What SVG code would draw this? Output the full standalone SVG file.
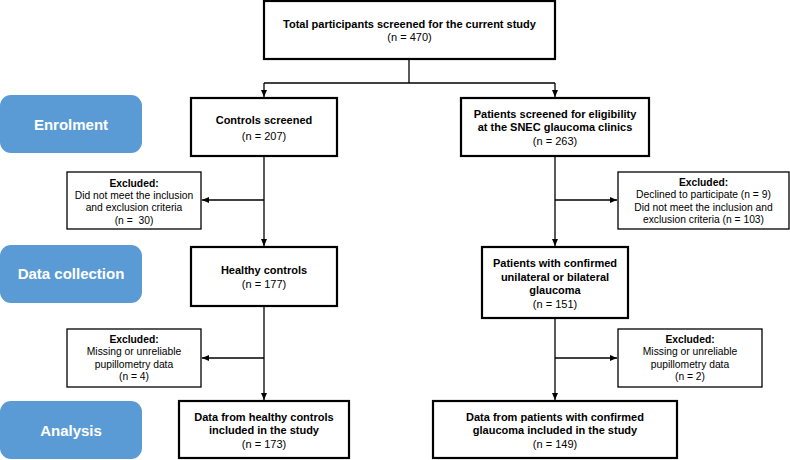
<svg xmlns="http://www.w3.org/2000/svg" width="790" height="460" viewBox="0 0 790 460">
<defs>
<marker id="ah" markerUnits="userSpaceOnUse" markerWidth="8" markerHeight="7" refX="7" refY="3" orient="auto">
<path d="M0,0 L7,3 L0,6 z" fill="#000"/>
</marker>
<style>
.main{fill:#fff;stroke:#000;stroke-width:2.2}
.exc{fill:#fff;stroke:#000;stroke-width:1.3}
.lab{fill:#5B9BD5}
.lt{font-family:"Liberation Sans",Arial,sans-serif;font-size:15px;font-weight:bold;fill:#fff;text-anchor:middle}
.b{font-family:"Liberation Sans",Arial,sans-serif;font-size:11px;font-weight:bold;fill:#000;text-anchor:middle}
.r{font-family:"Liberation Sans",Arial,sans-serif;font-size:11px;fill:#000;text-anchor:middle}
.eb{font-family:"Liberation Sans",Arial,sans-serif;font-size:10.3px;font-weight:bold;fill:#000;text-anchor:middle}
.er{font-family:"Liberation Sans",Arial,sans-serif;font-size:10.3px;fill:#000;text-anchor:middle}
.c{fill:none;stroke:#000;stroke-width:1.3}
</style>
</defs>
<rect width="790" height="460" fill="#fff"/>

<g id="connectors">
<path class="c" d="M409,59 V83"/>
<path class="c" d="M264,83 H555"/>
<path class="c" d="M264,83 V97" marker-end="url(#ah)"/>
<path class="c" d="M555,83 V97" marker-end="url(#ah)"/>
<path class="c" d="M264,156 V246" marker-end="url(#ah)"/>
<path class="c" d="M264,200 H202" marker-end="url(#ah)"/>
<path class="c" d="M264,306 V400" marker-end="url(#ah)"/>
<path class="c" d="M264,358 H202" marker-end="url(#ah)"/>
<path class="c" d="M555,156 V246" marker-end="url(#ah)"/>
<path class="c" d="M555,200 H617" marker-end="url(#ah)"/>
<path class="c" d="M555,318 V400" marker-end="url(#ah)"/>
<path class="c" d="M555,358 H617" marker-end="url(#ah)"/>
</g>

<g id="label-enrolment">
<rect class="lab" x="0" y="95" width="142" height="58" rx="11"/>
<text class="lt" x="71" y="130">Enrolment</text>
</g>
<g id="label-data-collection">
<rect class="lab" x="0" y="245" width="142" height="58" rx="11"/>
<text class="lt" x="71" y="279">Data collection</text>
</g>
<g id="label-analysis">
<rect class="lab" x="0" y="401" width="142" height="58" rx="11"/>
<text class="lt" x="71" y="436">Analysis</text>
</g>

<g id="total">
<rect class="main" x="264" y="1" width="291" height="58"/>
<text class="b" x="409.5" y="28">Total participants screened for the current study</text>
<text class="r" x="409.5" y="41">(n = 470)</text>
</g>

<g id="controls-screened">
<rect class="main" x="191" y="98" width="146" height="58"/>
<text class="b" x="264" y="124">Controls screened</text>
<text class="r" x="264" y="140">(n = 207)</text>
</g>

<g id="patients-screened">
<rect class="main" x="461" y="98" width="188" height="58"/>
<text class="b" x="555" y="118">Patients screened for eligibility</text>
<text class="b" x="555" y="131">at the SNEC glaucoma clinics</text>
<text class="r" x="555" y="145">(n = 263)</text>
</g>

<g id="excluded-controls-1">
<rect class="exc" x="67" y="172" width="134" height="57"/>
<text class="eb" x="134" y="186.6">Excluded:</text>
<text class="er" x="134" y="199">Did not meet the inclusion</text>
<text class="er" x="134" y="211.4">and exclusion criteria</text>
<text class="er" x="134" y="223.8" xml:space="preserve">(n =  30)</text>
</g>

<g id="excluded-patients-1">
<rect class="exc" x="618" y="172" width="171" height="57"/>
<text class="eb" x="703.5" y="186">Excluded:</text>
<text class="er" x="703.5" y="198.4">Declined to participate (n = 9)</text>
<text class="er" x="703.5" y="210.8">Did not meet the inclusion and</text>
<text class="er" x="703.5" y="223.2">exclusion criteria (n = 103)</text>
</g>

<g id="healthy-controls">
<rect class="main" x="191" y="247" width="146" height="59"/>
<text class="b" x="264" y="274">Healthy controls</text>
<text class="r" x="264" y="288">(n = 177)</text>
</g>

<g id="patients-confirmed">
<rect class="main" x="482" y="247" width="146" height="71"/>
<text class="b" x="555" y="267">Patients with confirmed</text>
<text class="b" x="555" y="280.5">unilateral or bilateral</text>
<text class="b" x="555" y="294">glaucoma</text>
<text class="r" x="555" y="308">(n = 151)</text>
</g>

<g id="excluded-controls-2">
<rect class="exc" x="67" y="329" width="134" height="58"/>
<text class="eb" x="134" y="343">Excluded:</text>
<text class="er" x="134" y="355.4">Missing or unreliable</text>
<text class="er" x="134" y="367.8">pupillometry data</text>
<text class="er" x="134" y="380.2">(n = 4)</text>
</g>

<g id="excluded-patients-2">
<rect class="exc" x="618" y="329" width="144" height="58"/>
<text class="eb" x="690" y="343">Excluded:</text>
<text class="er" x="690" y="355.4">Missing or unreliable</text>
<text class="er" x="690" y="367.8">pupillometry data</text>
<text class="er" x="690" y="380.2">(n = 2)</text>
</g>

<g id="data-healthy">
<rect class="main" x="179" y="401" width="170" height="57"/>
<text class="b" x="264" y="421">Data from healthy controls</text>
<text class="b" x="264" y="434">included in the study</text>
<text class="r" x="264" y="448">(n = 173)</text>
</g>

<g id="data-patients">
<rect class="main" x="433" y="401" width="244" height="57"/>
<text class="b" x="555" y="421">Data from patients with confirmed</text>
<text class="b" x="555" y="434">glaucoma included in the study</text>
<text class="r" x="555" y="448">(n = 149)</text>
</g>
</svg>
